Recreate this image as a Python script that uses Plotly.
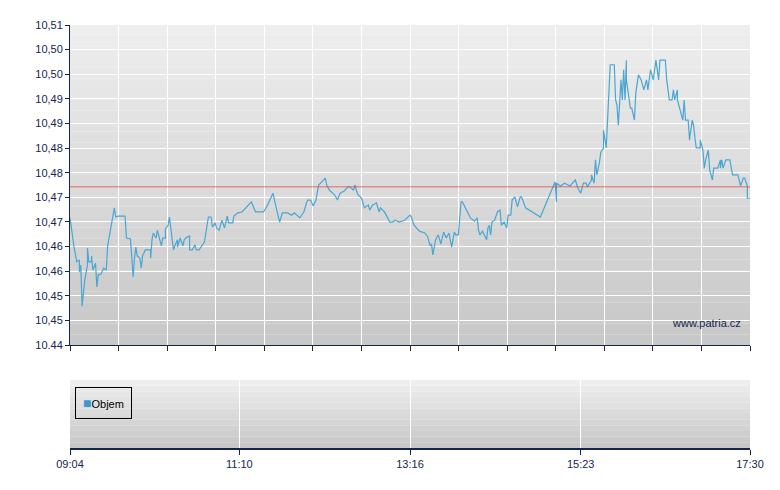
import plotly.graph_objects as go

# minutes after 09:04
times = [0,1,3,5,7,7,8,9,11,13,13,14,16,16,17,19,20,21,23,25,27,28,30,32,33,34,36,41,42,45,
         47,48,49,50,52,53,54,56,60,60,61,62,64,65,67,68,69,71,71,73,74,76,77,78,80,80,82,84,85,87,
         89,89,91,93,94,96,100,101,103,105,106,108,109,111,113,115,117,118,121,122,124,125,128,135,138,144,
         147,150,151,153,155,156,158,162,165,167,171,174,176,177,179,181,183,185,190,191,193,197,199,201,
         204,207,208,211,212,214,217,219,222,223,225,228,230,231,234,238,240,242,245,249,253,254,256,260,
         264,266,268,269,270,272,274,276,278,280,282,284,286,287,289,291,292,295,298,301,303,304,305,307,
         310,311,312,313,314,316,318,320,321,323,325,326,328,329,331,333,335,336,339,350,
         359,361,362,362,365,368,372,376,378,380,382,384,385,387,388,388,390,391,392,394,395,397,397,399,
         400,401,402,405,406,407,408,410,411,412,413,414,414,417,418,420,421,423,425,427,429,430,432,434,
         434,436,437,438,439,443,444,446,448,449,450,452,452,454,456,457,458,460,461,463,464,465,466,469,
         469,471,472,473,475,476,478,479,482,484,484,485,486,488,491,493,497,499,501,502,504,504,506]
prices = [10.4678,10.4656,10.4614,10.4582,10.4586,10.4560,10.4575,10.4485,10.4542,10.4575,10.4612,10.4582,10.4582,10.4595,10.4564,10.4579,10.4527,10.4553,10.4555,10.4568,10.4564,10.4617,10.4647,10.4678,10.4700,10.4680,10.4682,10.4682,10.4634,10.4632,
          10.4549,10.4590,10.4614,10.4595,10.4590,10.4568,10.4595,10.4608,10.4608,10.4590,10.4630,10.4645,10.4634,10.4651,10.4630,10.4617,10.4634,10.4634,10.4654,10.4662,10.4680,10.4630,10.4608,10.4617,10.4630,10.4614,10.4634,10.4617,10.4630,10.4636,
          10.4638,10.4608,10.4608,10.4619,10.4608,10.4608,10.4625,10.4643,10.4680,10.4680,10.4658,10.4667,10.4656,10.4651,10.4673,10.4656,10.4682,10.4667,10.4667,10.4682,10.4687,10.4689,10.4691,10.4713,10.4691,10.4691,
          10.4706,10.4728,10.4732,10.4706,10.4684,10.4669,10.4689,10.4689,10.4684,10.4689,10.4678,10.4691,10.4711,10.4717,10.4717,10.4704,10.4717,10.4750,10.4765,10.4750,10.4739,10.4728,10.4717,10.4732,
          10.4737,10.4746,10.4746,10.4739,10.4750,10.4730,10.4721,10.4700,10.4706,10.4695,10.4706,10.4711,10.4691,10.4700,10.4691,10.4669,10.4669,10.4673,10.4669,10.4673,10.4684,10.4680,10.4662,10.4649,
          10.4645,10.4638,10.4617,10.4621,10.4597,10.4630,10.4641,10.4621,10.4647,10.4634,10.4645,10.4614,10.4647,10.4641,10.4641,10.4713,10.4713,10.4695,10.4678,10.4671,10.4678,10.4651,10.4641,10.4649,
          10.4630,10.4656,10.4662,10.4641,10.4669,10.4673,10.4691,10.4695,10.4662,10.4669,10.4656,10.4684,10.4684,10.4717,10.4724,10.4702,10.4724,10.4724,10.4700,10.4680,
          10.4743,10.4757,10.4713,10.4754,10.4748,10.4754,10.4748,10.4761,10.4743,10.4732,10.4754,10.4754,10.4746,10.4757,10.4761,10.4772,10.4754,10.4805,10.4772,10.4800,10.4822,10.4831,10.4870,10.4831,
          10.4903,10.4958,10.5013,10.5013,10.4936,10.4925,10.4881,10.4980,10.4936,10.5002,10.4936,10.5023,10.4980,10.4918,10.4918,10.4892,10.4951,10.4991,10.4980,10.4958,10.4980,10.4958,10.5002,10.4980,
          10.4980,10.5023,10.5002,10.4980,10.5023,10.5023,10.4980,10.4936,10.4936,10.4958,10.4936,10.4958,10.4936,10.4914,10.4892,10.4936,10.4892,10.4892,10.4848,10.4892,10.4881,10.4853,10.4831,10.4831,
          10.4848,10.4826,10.4787,10.4805,10.4826,10.4783,10.4761,10.4787,10.4787,10.4805,10.4787,10.4805,10.4787,10.4805,10.4805,10.4772,10.4772,10.4748,10.4765,10.4765,10.4748,10.4721,10.4721]
ref_price = 10.4746

y_tick_vals = [10.44 + i * 0.07 / 13 for i in range(14)]
y_tick_text = ["10.44", "10,45", "10,45", "10,46", "10,46", "10,47", "10,47",
               "10,48", "10,48", "10,49", "10,49", "10,50", "10,50", "10,51"]
x_label_vals = [0, 126, 253, 380, 506]
x_label_text = ["09:04", "11:10", "13:16", "15:23", "17:30"]
x_minor_vals = [506 * i / 14 for i in range(15)]

navy = "#14264f"
font = dict(family="Liberation Sans, Arial", size=11, color=navy)
W, H = 780, 490
OX, OY = 8, 8  # page offset

fig = go.Figure()
fig.add_trace(go.Scatter(x=times, y=prices, mode="lines",
                         line=dict(color="#4aa6d2", width=1.2), showlegend=False,
                         xaxis="x", yaxis="y"))
fig.add_trace(go.Scatter(x=[0, 506], y=[0, 1], mode="markers", marker=dict(opacity=0),
                         showlegend=False, xaxis="x2", yaxis="y2", hoverinfo="skip"))

shapes = []
def grad(xref, yref, n=30, top=(238, 238, 238), bot=(200, 200, 200)):
    for i in range(n):
        f = i / (n - 1)
        c = tuple(int(top[k] + (bot[k] - top[k]) * f) for k in range(3))
        shapes.append(dict(type="rect", xref=xref, yref=yref, x0=0, x1=1,
                           y0=1 - (i + 1) / n, y1=1 - i / n, line=dict(width=0),
                           fillcolor="rgb(%d,%d,%d)" % c, layer="below"))
grad("x domain", "y domain")
grad("x2 domain", "y2 domain", n=12)
shapes.append(dict(type="line", xref="x domain", yref="y", x0=0, x1=1, y0=ref_price, y1=ref_price,
                   line=dict(color="rgba(220,70,70,0.75)", width=1)))
fig.update_layout(shapes=shapes)

def px(x): return (x - OX) / W
def py(y): return 1 - (y - OY) / H

fig.update_layout(
    width=W, height=H, margin=dict(l=0, r=0, t=0, b=0, autoexpand=False),
    paper_bgcolor="white", plot_bgcolor="rgba(0,0,0,0)", font=font,
    xaxis=dict(domain=[px(70), px(750)], range=[0, 506], tickvals=x_minor_vals, showticklabels=False,
               ticks="outside", ticklen=5, tickcolor=navy, showgrid=True, gridcolor="white", gridwidth=1.2,
               showline=True, linecolor=navy, linewidth=1, zeroline=False, anchor="y", automargin=False),
    yaxis=dict(domain=[py(345), py(25)], range=[10.44, 10.51], tickvals=y_tick_vals,
               ticktext=y_tick_text, ticks="outside", ticklen=4, tickcolor=navy, showgrid=True,
               gridcolor="white", gridwidth=1.2, showline=True, linecolor=navy, linewidth=1,
               zeroline=False, anchor="x", tickfont=font, automargin=False),
    xaxis2=dict(domain=[px(70), px(750)], range=[0, 506], tickvals=x_label_vals, ticktext=x_label_text,
                ticks="outside", ticklen=5, tickcolor=navy, showgrid=True, gridcolor="white",
                showline=True, linecolor=navy, linewidth=1.5, zeroline=False, anchor="y2", tickfont=font,
                automargin=False),
    yaxis2=dict(domain=[py(448), py(380)], range=[0, 1], showticklabels=False, showgrid=False,
                zeroline=False, anchor="x2", automargin=False),
)
fig.add_annotation(x=px(743), y=py(323), xref="paper", yref="paper", xanchor="right",
                   text="www.patria.cz", showarrow=False, font=dict(family="Liberation Sans, Arial", size=11, color=navy))
fig.add_annotation(x=px(75), y=py(419), xref="paper", yref="paper", xanchor="left",
                   text="<span style='color:#3a9ad0;font-size:14px'>■</span>Objem", showarrow=False,
                   bordercolor="black", borderwidth=1, borderpad=7, bgcolor="rgba(0,0,0,0)",
                   font=dict(family="Liberation Sans, Arial", size=11, color="black"))
fig.write_html("out.html")
